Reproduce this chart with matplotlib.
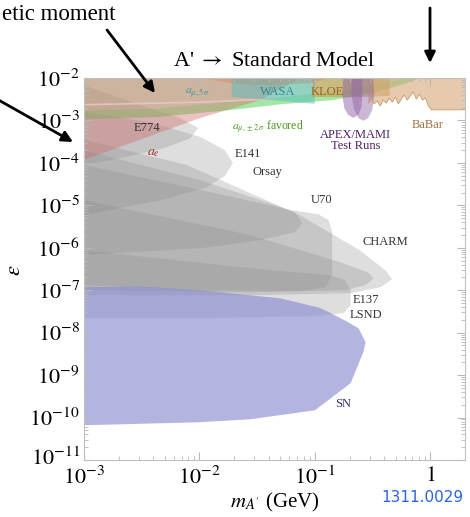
import matplotlib
matplotlib.use('Agg')

import numpy as np
import matplotlib.pyplot as plt
import matplotlib.transforms as mtransforms
from matplotlib.ticker import LogLocator, NullFormatter

plt.rcParams['font.family'] = 'Liberation Serif'
plt.rcParams['mathtext.fontset'] = 'stix'

# ---- data: region outlines as (log10 m, log10 eps) ----
e774_lm = [-3.0, -2.51, -2.17, -2.01, -2.08, -2.30, -2.69, -3.0]
e774_le = [-2.17, -2.64, -2.94, -3.18, -3.42, -3.65, -3.89, -4.05]

e141_lm = [-3.0, -2.43, -1.99, -1.78, -1.71, -1.78, -1.95, -2.34, -3.0]
e141_le = [-2.80, -3.04, -3.39, -3.70, -4.0, -4.31, -4.59, -4.88, -5.23]

orsay_lm = [-3.0, -1.99, -1.39, -1.17, -1.11, -1.17, -1.47, -1.99, -3.0]
orsay_le = [-3.70, -4.41, -4.95, -5.16, -5.42, -5.63, -5.82, -6.01, -6.17]

u70_lm = [-3.0, -1.99, -1.21, -0.97, -0.88, -0.85, -0.85, -0.91, -1.13, -1.99, -3.0]
u70_le = [-4.05, -4.64, -5.11, -5.21, -5.35, -5.63, -6.65, -6.93, -7.02, -7.0, -6.88]

charm_lm = [-3.0, -2.11, -1.13, -0.61, -0.39, -0.33, -0.43, -0.69, -1.56, -3.0]
charm_le = [-3.46, -4.05, -5.23, -6.06, -6.53, -6.74, -6.93, -7.07, -7.12, -7.12]

nucal_lm = [-3.0, -1.56, -0.78, -0.54, -0.49, -0.56, -0.74, -1.56, -3.0]
nucal_le = [-4.88, -5.70, -6.34, -6.58, -6.72, -6.88, -7.0, -7.05, -7.0]

e137_lm = [-3.0, -1.56, -0.87, -0.74, -0.69, -0.69, -0.75, -0.95, -1.99, -3.0]
e137_le = [-6.06, -6.48, -6.65, -6.76, -7.0, -7.35, -7.54, -7.61, -7.66, -7.66]

sn_lm = [-3.0, -2.51, -1.99, -1.30, -0.95, -0.74, -0.62, -0.56, -0.58, -0.69,
         -1.0, -1.56, -2.0, -2.69, -3.0]
sn_le = [-6.93, -6.91, -7.0, -7.19, -7.42, -7.71, -7.90, -8.23, -8.46, -9.19,
         -9.83, -10.04, -10.11, -10.16, -10.18]

ae_lm = [-3.0, -3.0, -1.99, -1.47, -1.13]
ae_le = [-2.0, -3.93, -2.94, -2.52, -2.0]

pink_lm = [-3.0, -2.0, -1.35, -1.35, -2.0, -3.0]
pink_le = [-2.65, -2.59, -2.51, -2.47, -2.55, -2.61]

fav_lm = [-3.0, -2.37, -1.71, -1.30, -0.84, -0.50, -0.20, -0.09]
fav_lo = [-2.97, -2.92, -2.75, -2.62, -2.52, -2.35, -2.12, -2.0]
fav_hi = [-2.77, -2.72, -2.55, -2.45, -2.33, -2.15, -2.0, -2.0]

arc_lm = [-1.99, -1.73, -1.39, -1.04, -0.87]
arc_le = [-2.0, -2.12, -2.17, -2.12, -2.0]

wasa_lm = [-1.72, -1.72, -1.39, -1.0, -1.0]
wasa_le = [-2.0, -2.45, -2.52, -2.61, -2.0]

kloe_lm = [-1.02, -1.02, -0.60, -0.35, -0.35]
kloe_le = [-2.0, -2.45, -2.45, -2.42, -2.0]

apex1_lm = [-0.754, -0.762, -0.745, -0.71, -0.667, -0.624, -0.598, -0.589, -0.589]
apex1_le = [-2.0, -2.40, -2.71, -2.87, -2.94, -2.87, -2.71, -2.40, -2.0]
apex2_lm = [-0.676, -0.684, -0.658, -0.624, -0.58, -0.537, -0.502, -0.485, -0.494]
apex2_le = [-2.0, -2.40, -2.75, -2.94, -3.01, -2.94, -2.75, -2.40, -2.0]

babar_lm = [-0.537, -0.511, -0.485, -0.459, -0.433, -0.407, -0.381, -0.355, -0.329,
            -0.303, -0.277, -0.251, -0.225, -0.199, -0.173, -0.147, -0.121, -0.094,
            -0.068, -0.042, -0.016, 0.010, 0.088, 0.304]
babar_le = [-2.59, -2.50, -2.61, -2.54, -2.66, -2.52, -2.59, -2.47, -2.57,
            -2.45, -2.61, -2.50, -2.40, -2.52, -2.42, -2.33, -2.50, -2.38,
            -2.52, -2.47, -2.66, -2.75, -2.75, -2.75]

x_ticks = [1e-3, 1e-2, 1e-1, 1]
x_labels = [r'$10^{-3}$', r'$10^{-2}$', r'$10^{-1}$', r'$1$']
y_exps = [-2, -3, -4, -5, -6, -7, -8, -9, -10, -11]

labels = [
    (r'$a_{\mu,5\,\sigma}$', 0.0096, 4.4e-3, '#3a9aa0', 8.5),
    ('WASA', 0.048, 4.7e-3, '#2a8a9a', 9),
    ('KLOE', 0.128, 4.7e-3, '#a06020', 9),
    (r'$a_{\mu,\pm 2\,\sigma}$ favored', 0.039, 6.9e-4, '#4a9a20', 8.5),
    ('E774', 0.0035, 6.6e-4, '#333333', 9),
    (r'$a_e$', 0.004, 1.8e-4, '#a03030', 10),
    ('E141', 0.0264, 1.6e-4, '#333333', 9),
    ('Orsay', 0.039, 6.0e-5, '#333333', 9),
    ('U70', 0.114, 1.3e-5, '#333333', 9),
    ('CHARM', 0.41, 1.35e-6, '#333333', 9),
    ('E137', 0.279, 5.8e-8, '#333333', 9),
    ('LSND', 0.279, 2.6e-8, '#333333', 9),
    ('SN', 0.176, 2.1e-10, '#303080', 9),
    ('APEX/MAMI\nTest Runs', 0.225, 3.4e-4, '#502060', 9),
    ('BaBar', 0.944, 7.8e-4, '#a0703f', 9),
]


def pw(v):
    return 10 ** np.asarray(v)


fig = plt.figure(figsize=(4.7, 5.17), dpi=100)
ax = fig.add_axes([84 / 470, 57 / 517, 381 / 470, 382 / 517])
ax.set_xscale('log')
ax.set_yscale('log')
ax.set_xlim(1e-3, 2)
ax.set_ylim(1e-11, 1e-2)

# grey beam dump regions
gray = dict(facecolor='#8a8a8a', alpha=0.28, edgecolor='none')
for lm, le in [(e774_lm, e774_le), (e141_lm, e141_le), (orsay_lm, orsay_le),
               (u70_lm, u70_le), (charm_lm, charm_le), (nucal_lm, nucal_le),
               (e137_lm, e137_le)]:
    ax.fill(pw(lm), pw(le), **gray)

# supernova
ax.fill(pw(sn_lm), pw(sn_le), facecolor='#8c8cd2', alpha=0.65, edgecolor='none')

# g-2 regions
fav_x = pw(fav_lm)
ax.fill_between(fav_x, pw(fav_hi), 1e-2, facecolor='#8cc878', alpha=0.45, lw=0)
ax.fill_between(fav_x, pw(fav_lo), pw(fav_hi), facecolor='#5ad45a', alpha=0.55, lw=0)
ax.fill(pw(ae_lm), pw(ae_le), facecolor='#d06a6a', alpha=0.4, edgecolor='none')
ax.fill(pw(pink_lm), pw(pink_le), facecolor='#f4c4cc', alpha=0.8, edgecolor='none')

# collider / fixed target
ax.fill(pw(arc_lm), pw(arc_le), facecolor='#e09060', alpha=0.55, edgecolor='none')
ax.fill(pw(wasa_lm), pw(wasa_le), facecolor='#50b8c0', alpha=0.45, edgecolor='none')
ax.fill(pw(kloe_lm), pw(kloe_le), facecolor='#c89040', alpha=0.5, edgecolor='none')
bx = pw(babar_lm)
ax.fill_between(bx, pw(babar_le), 1e-2, facecolor='#d4a878', alpha=0.6, lw=0)
ax.plot(bx, pw(babar_le), color='#c89a68', lw=0.6)
ax.fill(pw(apex1_lm), pw(apex1_le), facecolor='#9060a8', alpha=0.5, edgecolor='none')
ax.fill(pw(apex2_lm), pw(apex2_le), facecolor='#9060a8', alpha=0.45, edgecolor='none')

for txt, x, y, c, fs in labels:
    ax.text(x, y, txt, color=c, fontsize=fs, ha='center', va='center', linespacing=0.95)

# axes styling
ax.set_xticks(x_ticks)
ax.set_xticklabels(x_labels)
ax.set_yticks([10.0 ** e for e in y_exps])
ax.set_yticklabels([r'$10^{%d}$' % e for e in y_exps])
ax.xaxis.set_minor_locator(LogLocator(base=10, subs=np.arange(2, 10), numticks=100))
ax.yaxis.set_minor_locator(LogLocator(base=10, subs=np.arange(2, 10), numticks=100))
ax.xaxis.set_minor_formatter(NullFormatter())
ax.yaxis.set_minor_formatter(NullFormatter())
ax.tick_params(which='both', direction='in', top=True, right=True, color='#b8b8b8',
               labelsize=16)
ax.tick_params(which='major', length=6, width=0.8)
ax.tick_params(which='minor', length=3, width=0.6)
ax.tick_params(axis='x', pad=5)
ax.tick_params(axis='y', pad=3)
for s in ax.spines.values():
    s.set_color('#c0c0c0')
# lift the lowest y label a few pixels so it clears the first x label
low = ax.get_yticklabels()[-1]
low.set_transform(low.get_transform() +
                  mtransforms.ScaledTranslation(0, 4 / 100, fig.dpi_scale_trans))

ax.set_xlabel(r"$m_{A'}$ (GeV)", fontsize=15, labelpad=1)
fig.text(16 / 470, 1 - 270 / 517, r'$\epsilon$', fontsize=16, rotation=90,
         ha='center', va='center')
ax.set_title(r"A' $\rightarrow$ Standard Model", fontsize=16, pad=9)

fig.text(463 / 470, 1 - 497 / 517, '1311.0029', color='#2a62e0', fontsize=11,
         family='DejaVu Sans', ha='right', va='center')
fig.text(116 / 470, 1 - 15 / 517, 'etic moment', fontsize=16.5, ha='right', va='center')

arrow = dict(arrowstyle='-|>', lw=2, color='k', mutation_scale=16, shrinkA=0, shrinkB=0)
for (x0, y0), (x1, y1) in [((107, 487), (155, 424)), ((-5, 419), (73, 375)),
                           ((430, 509), (430, 454))]:
    ax.annotate('', xy=(x1, y1), xytext=(x0, y0), xycoords='figure pixels',
                textcoords='figure pixels', arrowprops=arrow, annotation_clip=False)

fig.savefig('out.png', dpi=100)
